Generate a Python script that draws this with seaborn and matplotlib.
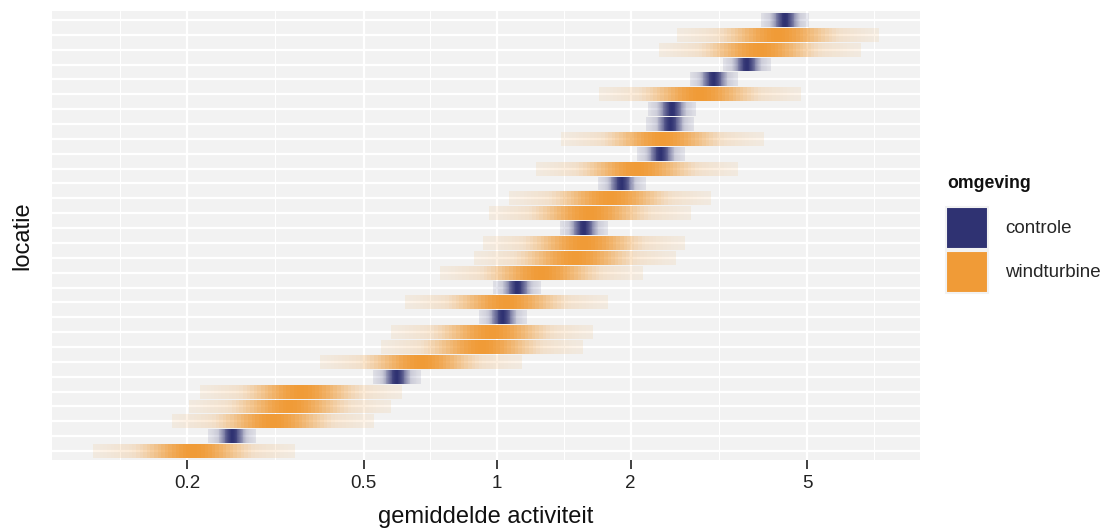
import numpy as np
import matplotlib
matplotlib.use("Agg")
import matplotlib.pyplot as plt
import seaborn as sns
from matplotlib.patches import Patch
from matplotlib.colors import to_rgb
from matplotlib.ticker import NullFormatter

# ---------------- data (top row first) ----------------
locaties = ["L30", "L29", "L28", "L27", "L26", "L25", "L24", "L23", "L22", "L21",
            "L20", "L19", "L18", "L17", "L16", "L15", "L14", "L13", "L12", "L11",
            "L10", "L09", "L08", "L07", "L06", "L05", "L04", "L03", "L02", "L01"]
omgeving = ["controle", "windturbine", "windturbine", "controle", "controle",
            "windturbine", "controle", "controle", "windturbine", "controle",
            "windturbine", "controle", "windturbine", "windturbine", "controle",
            "windturbine", "windturbine", "windturbine", "controle", "windturbine",
            "controle", "windturbine", "windturbine", "windturbine", "controle",
            "windturbine", "windturbine", "windturbine", "controle", "windturbine"]
activiteit = [4.46, 4.30, 3.92, 3.66, 3.08,
              2.87, 2.48, 2.46, 2.36, 2.34,
              2.07, 1.91, 1.80, 1.62, 1.57,
              1.57, 1.50, 1.26, 1.11, 1.05,
              1.03, 0.975, 0.925, 0.674, 0.594,
              0.361, 0.341, 0.313, 0.253, 0.207]
# half width of the uncertainty band (log10 units)
onzekerheid = {"controle": 0.054, "windturbine": 0.228}
groepen = ["controle", "windturbine"]
kleuren = {"controle": "#2f3272", "windturbine": "#f09b37"}
x_ticks = [0.2, 0.5, 1, 2, 5]
x_ticklabels = ["0.2", "0.5", "1", "2", "5"]
x_minor = [0.1414, 0.3162, 0.7071, 1.4142, 3.1623, 7.0711]

# ---------------- style ----------------
sns.set_theme(style="darkgrid", rc={
    "axes.facecolor": "#F2F2F2",
    "grid.color": "white",
})
plt.rcParams["font.family"] = ["Liberation Sans", "DejaVu Sans"]

fig = plt.figure(figsize=(11.05, 5.28), dpi=100)
ax = fig.add_axes([52 / 1105, 1 - 460 / 528, 868 / 1105, 449 / 528])

n = len(locaties)
ypos = np.arange(n)[::-1]

edges = np.linspace(-1, 1, 57)
mids = 0.5 * (edges[:-1] + edges[1:])
ad = np.abs(mids)
alpha = np.maximum(np.exp(-0.5 * (ad / 0.34) ** 2), 0.65 * np.exp(-1.9 * ad))

for y, grp, c in zip(ypos, omgeving, activiteit):
    hw = onzekerheid[grp]
    lc = np.log10(c)
    lo = 10 ** (lc + edges[:-1] * hw)
    hi = 10 ** (lc + edges[1:] * hw)
    rgb = to_rgb(kleuren[grp])
    cols = [(*rgb, a) for a in alpha]
    ax.barh(np.full(len(mids), y), hi - lo, left=lo, height=0.93,
            color=cols, linewidth=0, antialiased=False, zorder=2)

ax.set_xscale("log")
ax.set_xlim(0.0992, 8.99)
ax.set_ylim(-0.6, n - 1 + 0.6)
ax.set_xticks(x_ticks)
ax.set_xticklabels(x_ticklabels)
ax.set_xticks(x_minor, minor=True)
ax.xaxis.set_minor_formatter(NullFormatter())
ax.set_yticks(ypos)
ax.set_yticklabels([])

ax.set_axisbelow(True)
ax.grid(which="major", axis="both", color="white", linewidth=1.6)
ax.grid(which="minor", axis="x", color="white", linewidth=0.8)
ax.grid(which="minor", axis="y", visible=False)
for s in ax.spines.values():
    s.set_visible(False)

ax.tick_params(axis="x", which="major", length=6.5, width=1.3, color="#333333",
               labelsize=13.5, labelcolor="#222222", pad=4, bottom=True)
ax.tick_params(axis="x", which="minor", length=0)
ax.tick_params(axis="y", which="both", length=0)

ax.set_xlabel("gemiddelde activiteit", fontsize=17, color="#111111")
ax.set_ylabel("locatie", fontsize=17, color="#111111")
ax.xaxis.set_label_coords(0.5, (460 - 506) / 449)
ax.yaxis.set_label_coords((33 - 52) / 868, 0.5)

fig.text(947 / 1105, 1 - 175 / 528, "omgeving", fontsize=12.7, fontweight="bold",
         ha="left", va="top", color="#111111")
handles = [Patch(facecolor=kleuren[g], edgecolor="#F2F2F2", linewidth=1.5, label=g)
           for g in groepen]
leg = fig.legend(handles=handles, loc="upper left",
                 bbox_to_anchor=(946 / 1105, 1 - 207 / 528), frameon=False,
                 fontsize=13.5, handlelength=2.24,
                 handleheight=3.06, handletextpad=0.9, labelspacing=0.1,
                 borderpad=0, borderaxespad=0)

fig.savefig("out.png", dpi=100)
